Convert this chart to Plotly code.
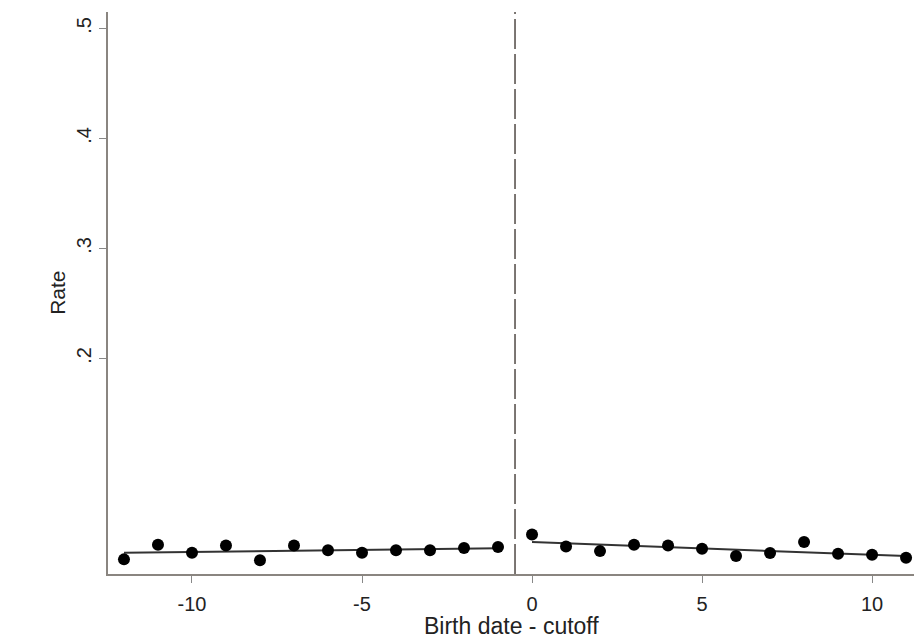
import numpy as np
import plotly.graph_objects as go

# Data
x_left = [-12, -11, -10, -9, -8, -7, -6, -5, -4, -3, -2, -1]
y_left = [0.0173, 0.0306, 0.0233, 0.0300, 0.0164, 0.0300, 0.0255, 0.0233, 0.0255, 0.0255, 0.0276, 0.0285]
x_right = [0, 1, 2, 3, 4, 5, 6, 7, 8, 9, 10, 11]
y_right = [0.0400, 0.0291, 0.0248, 0.0306, 0.0300, 0.0270, 0.0203, 0.0230, 0.0330, 0.0224, 0.0215, 0.0188]
cutoff = -0.5
x_ticks = [-10, -5, 0, 5, 10]
x_tick_labels = ["-10", "-5", "0", "5", "10"]
y_ticks = [0.2, 0.3, 0.4, 0.5]
y_tick_labels = [".2", ".3", ".4", ".5"]

def fit(xs, ys):
    b, a = np.polyfit(xs, ys, 1)
    xs = np.array(xs)
    return xs, a + b * xs

fig = go.Figure()
for xs, ys in [(x_left, y_left), (x_right, y_right)]:
    fx, fy = fit(xs, ys)
    fig.add_trace(go.Scatter(x=fx, y=fy, mode="lines",
                             line=dict(color="#333333", width=2), showlegend=False))
    fig.add_trace(go.Scatter(x=xs, y=ys, mode="markers",
                             marker=dict(color="black", size=12), showlegend=False))

fig.add_vline(x=cutoff, line=dict(color="#6e6864", width=1.8, dash="30px,5px"))

# page body adds an 8px offset; figure is sized to fit the 922x638 window
fig.update_layout(
    width=914, height=630,
    margin=dict(l=100, r=2, t=4, b=64),
    plot_bgcolor="white", paper_bgcolor="white",
    font=dict(family="Liberation Sans, Arial, sans-serif", size=20, color="#222"),
    annotations=[
        dict(text="Birth date - cutoff", xref="paper", yref="paper", x=0.4975, y=-0.092,
             xanchor="center", yanchor="middle", showarrow=False, font=dict(size=23)),
        dict(text="Rate", xref="paper", yref="paper", x=-0.063, y=0.50, textangle=-90,
             xanchor="center", yanchor="middle", showarrow=False, font=dict(size=21)),
    ],
)
fig.update_xaxes(range=[-12.47, 11.41], tickvals=x_ticks, ticktext=x_tick_labels,
                 ticks="outside", ticklen=7, tickcolor="#888", ticklabelstandoff=4,
                 showgrid=False, zeroline=False, showline=True, automargin=False,
                 linecolor="#8a8580", linewidth=2)
fig.update_yaxes(range=[0.004, 0.515], tickvals=y_ticks, ticktext=y_tick_labels,
                 tickangle=-90, ticks="outside", ticklen=7, tickcolor="#888",
                 showgrid=False, zeroline=False, showline=True, automargin=False,
                 linecolor="#8a8580", linewidth=2)

fig.write_html("out.html")
